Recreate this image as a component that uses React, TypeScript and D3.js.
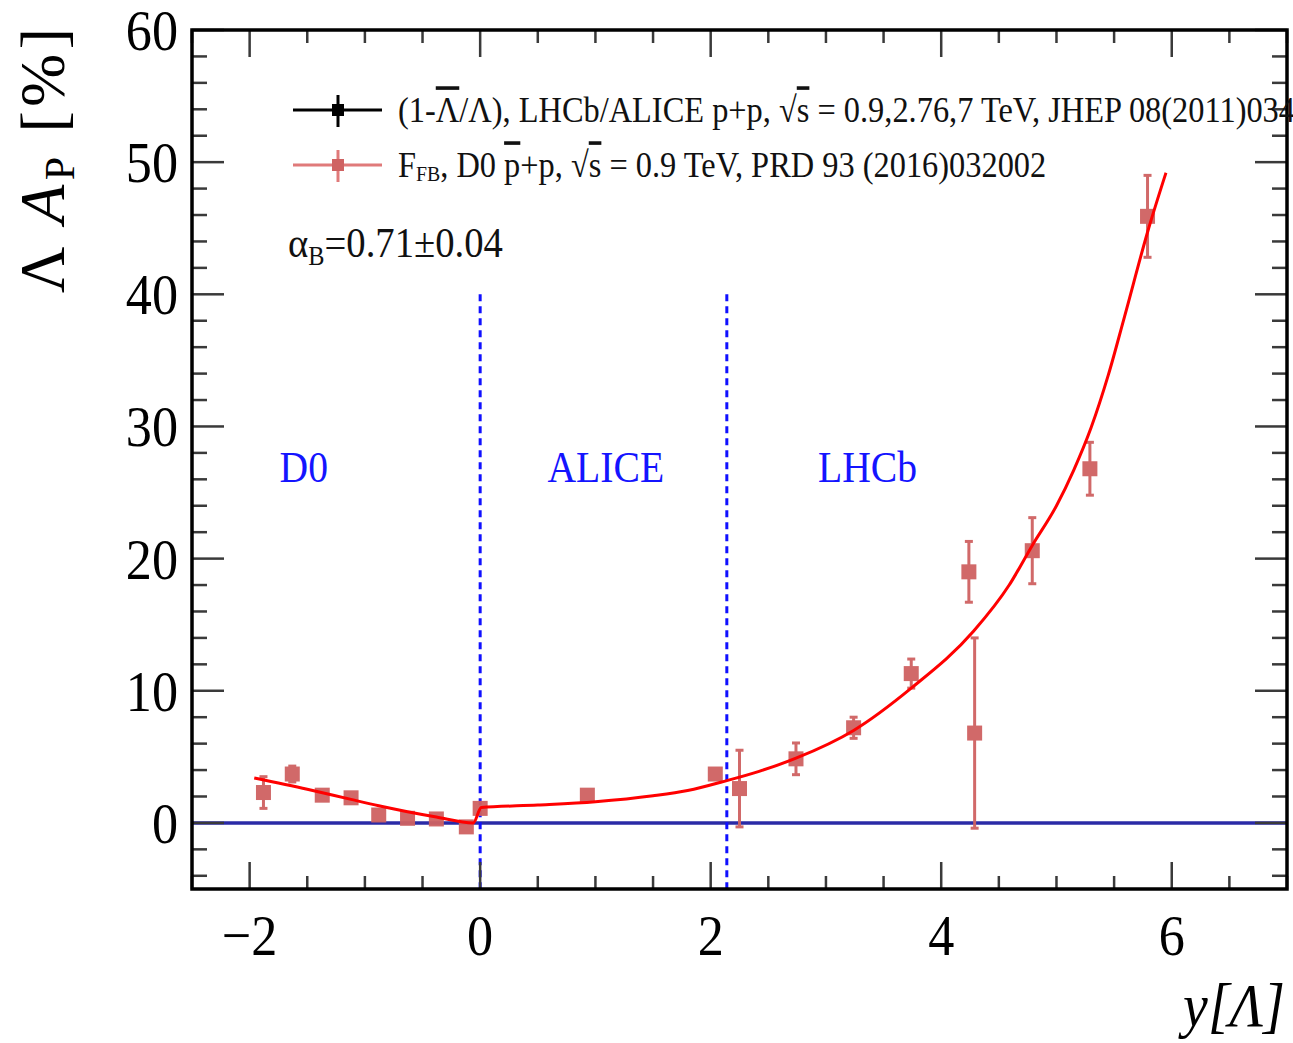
import React from "react";
import * as d3 from "d3";

// ---- data ----
const ptX = [-1.88, -1.63, -1.37, -1.12, -0.88, -0.63, -0.38, -0.12, 0.0, 0.93, 2.04, 2.25, 2.74, 3.24, 3.74, 4.24, 4.29, 4.79, 5.29, 5.79];
const ptY = [2.3, 3.7, 2.1, 1.9, 0.6, 0.35, 0.3, -0.3, 1.1, 2.1, 3.7, 2.6, 4.85, 7.2, 11.3, 19.0, 6.8, 20.6, 26.8, 45.9];
const ptErr = [1.2, 0.6, 0.4, 0.4, 0.4, 0.3, 0.3, 0.3, 0.4, 0.3, 0.4, 2.9, 1.2, 0.8, 1.1, 2.3, 7.2, 2.5, 2.0, 3.1];

const fitX = [-1.96, -1.5, -1.13, -0.88, -0.63, -0.38, -0.06, 0.01, 0.5, 1.0, 1.5, 1.8, 2.14, 2.42, 2.74, 3.24, 3.74, 4.28, 4.59, 4.79, 5.0, 5.15, 5.3, 5.45, 5.59, 5.8, 5.95];
const fitY = [3.4, 2.55, 1.8, 1.3, 0.85, 0.45, 0.0, 1.16, 1.35, 1.6, 2.05, 2.45, 3.2, 3.9, 4.9, 7.0, 10.2, 14.5, 18.0, 21.0, 24.0, 26.7, 29.9, 33.9, 38.3, 45.0, 49.2];

const xMajorTicks = [-2, 0, 2, 4, 6];
const xTickLabels = ["\u22122", "0", "2", "4", "6"];
const yMajorTicks = [0, 10, 20, 30, 40, 50, 60];
const yTickLabels = ["0", "10", "20", "30", "40", "50", "60"];

const regionLines = [0, 2.14];
const regionLabels = ["D0", "ALICE", "LHCb"];
const regionLabelX = [-1.53, 1.09, 3.36];

const W = 1293;
const H = 1043;
const FONT = "'Liberation Serif', 'DejaVu Serif', serif";
const SX = 0.9;

export default function App() {
  const x = d3.scaleLinear().domain([-2.5, 7]).range([192, 1287]);
  const y = d3.scaleLinear().domain([-5, 60]).range([889, 30]);
  const [x0, x1] = x.range();
  const [y0, y1] = y.range();

  const xMinor = d3.range(-2.5, 7.001, 0.5).filter((v) => !xMajorTicks.some((m) => Math.abs(m - v) < 1e-6));
  const yMinor = d3.range(-4, 60.001, 2).filter((v) => Math.abs(v % 10) > 1e-6);

  const fitPts = fitX.map((v, i) => [v, fitY[i]] as [number, number]);
  const fitLine = d3
    .line<[number, number]>()
    .x((d) => x(d[0]))
    .y((d) => y(d[1]))
    .curve(d3.curveMonotoneX)(fitPts);

  const red = "#cf6262";
  const tickCol = "#3a3a3a";

  const t = (tx: number, ty: number, sx = SX) => `translate(${tx},${ty}) scale(${sx},1)`;

  return (
    <svg width={W} height={H} style={{ position: "absolute", left: 0, top: 0, background: "#fff" }} fontFamily={FONT}>
      <rect x={0} y={0} width={W} height={H} fill="#fff" />

      {/* zero line */}
      <line x1={x0} x2={x1} y1={y(0)} y2={y(0)} stroke="#2a2aa6" strokeWidth={3.5} />

      {/* region dashed lines */}
      {regionLines.map((v, i) => (
        <line key={i} x1={x(v)} x2={x(v)} y1={y(40)} y2={y0} stroke="#1010ff" strokeWidth={3} strokeDasharray="7,5" />
      ))}
      {regionLabels.map((s, i) => (
        <text key={s} transform={t(x(regionLabelX[i]), 482)} textAnchor="middle" fontSize={44} fill="#1414ff">
          {s}
        </text>
      ))}

      {/* error bars & markers */}
      {ptX.map((v, i) => {
        const cx = x(v);
        const top = y(ptY[i] + ptErr[i]);
        const bot = y(ptY[i] - ptErr[i]);
        return (
          <g key={i} opacity={0.95}>
            <line x1={cx} x2={cx} y1={top} y2={bot} stroke={red} strokeWidth={3} />
            <line x1={cx - 4} x2={cx + 4} y1={top} y2={top} stroke={red} strokeWidth={3} />
            <line x1={cx - 4} x2={cx + 4} y1={bot} y2={bot} stroke={red} strokeWidth={3} />
            <rect x={cx - 7.5} y={y(ptY[i]) - 7.5} width={15} height={15} fill={red} />
          </g>
        );
      })}

      {/* fit */}
      <path d={fitLine || ""} fill="none" stroke="#ff0000" strokeWidth={3} />

      {/* ticks */}
      {xMajorTicks.map((v) => (
        <g key={"xM" + v}>
          <line x1={x(v)} x2={x(v)} y1={y0} y2={y0 - 27} stroke={tickCol} strokeWidth={2.5} />
          <line x1={x(v)} x2={x(v)} y1={y1} y2={y1 + 27} stroke={tickCol} strokeWidth={2.5} />
        </g>
      ))}
      {xMinor.map((v) => (
        <g key={"xm" + v}>
          <line x1={x(v)} x2={x(v)} y1={y0} y2={y0 - 13} stroke={tickCol} strokeWidth={2.5} />
          <line x1={x(v)} x2={x(v)} y1={y1} y2={y1 + 13} stroke={tickCol} strokeWidth={2.5} />
        </g>
      ))}
      {yMajorTicks.map((v) => (
        <g key={"yM" + v}>
          <line x1={x0} x2={x0 + 32} y1={y(v)} y2={y(v)} stroke={tickCol} strokeWidth={2.5} />
          <line x1={x1} x2={x1 - 32} y1={y(v)} y2={y(v)} stroke={tickCol} strokeWidth={2.5} />
        </g>
      ))}
      {yMinor.map((v) => (
        <g key={"ym" + v}>
          <line x1={x0} x2={x0 + 15} y1={y(v)} y2={y(v)} stroke={tickCol} strokeWidth={2.5} />
          <line x1={x1} x2={x1 - 15} y1={y(v)} y2={y(v)} stroke={tickCol} strokeWidth={2.5} />
        </g>
      ))}

      {/* frame */}
      <rect x={x0} y={y1} width={x1 - x0} height={y0 - y1} fill="none" stroke="#000" strokeWidth={3.5} />

      {/* tick labels */}
      {xMajorTicks.map((v, i) => (
        <text key={"xl" + v} transform={t(x(v), 955)} textAnchor="middle" fontSize={58} fill="#000">
          {xTickLabels[i]}
        </text>
      ))}
      {yMajorTicks.map((v, i) => (
        <text key={"yl" + v} transform={t(178, y(v) + 20)} textAnchor="end" fontSize={58} fill="#000">
          {yTickLabels[i]}
        </text>
      ))}

      {/* axis titles */}
      <text transform={t(1285, 1026)} textAnchor="end" fontSize={62} fontStyle="italic" fill="#000">
        y[Λ]
      </text>
      <text transform="translate(64,28) rotate(-90)" textAnchor="end" fontSize={64} fill="#000" textLength={265} lengthAdjust="spacing">
        Λ <tspan fontStyle="italic">A</tspan>
        <tspan fontSize={42} dy={10}>P</tspan>
        <tspan dy={-10}> [%]</tspan>
      </text>

      {/* legend */}
      <g>
        <line x1={293} x2={382} y1={110} y2={110} stroke="#000" strokeWidth={3} />
        <line x1={338} x2={338} y1={95} y2={127} stroke="#000" strokeWidth={3} />
        <rect x={332} y={104} width={12} height={12} fill="#000" />
        <text transform={t(398, 122)} fontSize={36} fill="#111">
          (1-<tspan style={{ textDecoration: "overline" }}>Λ</tspan>/Λ), LHCb/ALICE p+p, √
          <tspan style={{ textDecoration: "overline" }}>s</tspan> = 0.9,2.76,7 TeV, JHEP 08(2011)034
        </text>

        <line x1={293} x2={382} y1={165} y2={165} stroke="#e07a7a" strokeWidth={3} />
        <line x1={338} x2={338} y1={150} y2={182} stroke="#e07a7a" strokeWidth={3} />
        <rect x={332} y={159} width={12} height={12} fill={red} />
        <text transform={t(398, 177)} fontSize={36} fill="#111">
          F<tspan fontSize={22} dy={4}>FB</tspan>
          <tspan dy={-4}>, D0 </tspan>
          <tspan style={{ textDecoration: "overline" }}>p</tspan>+p, √
          <tspan style={{ textDecoration: "overline" }}>s</tspan> = 0.9 TeV, PRD 93 (2016)032002
        </text>

        <text transform={t(288, 257)} fontSize={43} fill="#111">
          α<tspan fontSize={27} dy={8}>B</tspan>
          <tspan dy={-8}>=0.71±0.04</tspan>
        </text>
      </g>
    </svg>
  );
}
